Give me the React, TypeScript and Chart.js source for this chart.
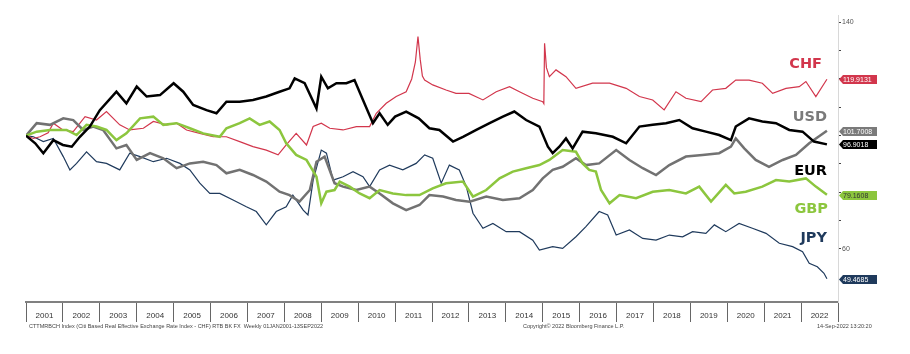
import React, { useEffect, useRef } from 'react';
import { Chart, registerables } from 'chart.js';

Chart.register(...registerables);

// ---------- DATA ----------
const yearLabels = ['2001','2002','2003','2004','2005','2006','2007','2008','2009','2010','2011','2012','2013','2014','2015','2016','2017','2018','2019','2020','2021','2022'];
const yTickValues = [60, 70, 80, 90, 100, 110, 120, 130, 140];
const yLabelled = [60, 140];

const chfYears = [2001.0,2001.2,2001.38,2001.6,2001.74,2002.0,2002.28,2002.6,2002.91,2003.18,2003.54,2003.81,2004.18,2004.45,2004.81,2005.08,2005.35,2005.71,2006.07,2006.43,2006.79,2007.15,2007.51,2007.83,2008.05,2008.32,2008.6,2008.78,2009.0,2009.23,2009.59,2009.95,2010.31,2010.49,2010.76,2011.03,2011.3,2011.45,2011.55,2011.62,2011.68,2011.74,2011.8,2012.02,2012.38,2012.65,2013.0,2013.38,2013.74,2014.1,2014.37,2014.73,2015.0,2015.03,2015.05,2015.1,2015.18,2015.36,2015.63,2015.9,2016.35,2016.81,2017.26,2017.62,2017.98,2018.29,2018.61,2018.88,2019.29,2019.6,2019.96,2020.23,2020.59,2020.95,2021.23,2021.59,2021.95,2022.13,2022.4,2022.7];
const chfValues = [100,99.0,99.6,101.0,104.4,102.0,101.4,106.7,105.5,108.5,103.8,102.0,102.6,105.0,103.8,104.4,102.0,100.8,99.6,99.6,97.9,96.1,94.9,93.2,96.7,100.8,96.7,103.2,104.4,102.6,102.0,103.2,103.2,107.9,111.4,113.8,115.5,120.0,126.0,135.0,127.0,121.0,119.6,117.9,116.1,114.9,114.9,112.6,115.5,117.3,115.5,113.2,112.0,111.3,132.6,124.0,120.8,123.2,120.8,116.7,118.5,118.5,116.7,113.8,112.6,109.1,115.5,113.2,112.0,116.1,116.7,119.6,119.6,118.5,114.9,116.7,117.3,119.1,113.8,119.9131];

const eurYears = [2001.0,2001.25,2001.47,2001.74,2002.0,2002.24,2002.46,2002.73,2003.0,2003.45,2003.72,2004.0,2004.27,2004.63,2005.0,2005.26,2005.53,2005.89,2006.16,2006.43,2006.79,2007.15,2007.51,2007.87,2008.14,2008.28,2008.55,2008.87,2009.0,2009.18,2009.41,2009.68,2009.9,2010.13,2010.4,2010.58,2010.8,2011.0,2011.3,2011.64,2011.93,2012.2,2012.57,2012.84,2013.2,2013.56,2013.92,2014.23,2014.55,2014.91,2015.14,2015.27,2015.45,2015.63,2015.81,2016.08,2016.44,2016.9,2017.26,2017.62,2017.98,2018.34,2018.7,2019.06,2019.42,2019.78,2020.1,2020.23,2020.59,2020.95,2021.32,2021.68,2022.04,2022.35,2022.7];
const eurValues = [100,97.3,93.8,98.4,96.7,96.1,99.6,103.2,109.0,115.5,111.4,117.3,113.8,114.3,118.5,115.5,110.8,109.0,107.9,112.0,112.0,112.6,113.8,115.5,116.7,120.2,118.5,109.6,120.8,116.7,118.5,118.5,119.6,112.6,104.4,107.9,103.8,106.7,108.5,106.1,102.6,102.0,97.9,99.6,102.0,104.4,106.7,108.5,105.5,103.2,96.1,93.8,96.1,99.0,95.5,101.4,100.8,99.6,97.3,103.2,103.8,104.4,105.5,102.6,101.4,100.2,98.4,103.2,106.1,105.0,104.4,102.0,101.4,97.9,96.9018];

const usdYears = [2001.0,2001.29,2001.65,2002.01,2002.28,2002.55,2002.82,2003.09,2003.45,2003.72,2004.0,2004.36,2004.72,2005.08,2005.44,2005.8,2006.16,2006.43,2006.79,2007.15,2007.51,2007.87,2008.14,2008.41,2008.69,2008.87,2009.09,2009.36,2009.59,2009.95,2010.31,2010.58,2010.94,2011.3,2011.66,2011.93,2012.3,2012.65,2013.02,2013.47,2013.92,2014.37,2014.73,2015.0,2015.27,2015.54,2015.9,2016.17,2016.53,2016.99,2017.35,2017.71,2018.07,2018.43,2018.88,2019.33,2019.78,2020.1,2020.23,2020.46,2020.77,2021.13,2021.5,2021.86,2022.22,2022.7];
const usdValues = [100,104.4,103.8,106.1,105.5,102.0,103.2,102.0,95.5,96.7,91.4,93.8,92.0,88.5,90.2,90.8,89.6,86.7,87.9,86.1,83.8,80.2,79.0,76.7,80.8,90.8,92.6,83.2,82.0,80.8,82.0,79.6,76.1,73.7,75.5,79.0,78.5,77.3,76.7,78.5,77.3,77.9,80.8,84.9,87.9,89.0,92.0,89.6,90.2,94.9,91.4,88.5,86.1,89.6,92.6,93.2,93.8,96.1,99.0,95.5,91.4,89.0,91.4,93.2,97.3,101.7008];

const gbpYears = [2001.0,2001.29,2001.65,2002.1,2002.37,2002.64,2002.91,2003.18,2003.45,2003.72,2004.09,2004.45,2004.72,2005.08,2005.44,2005.8,2006.25,2006.43,2006.79,2007.06,2007.33,2007.6,2007.87,2008.05,2008.32,2008.6,2008.87,2009.0,2009.14,2009.36,2009.5,2009.77,2010.04,2010.31,2010.58,2010.94,2011.3,2011.66,2012.02,2012.38,2012.84,2013.11,2013.47,2013.83,2014.19,2014.55,2014.91,2015.18,2015.54,2015.9,2016.08,2016.26,2016.44,2016.58,2016.81,2017.08,2017.53,2017.98,2018.43,2018.88,2019.24,2019.56,2019.96,2020.19,2020.5,2020.95,2021.32,2021.68,2022.13,2022.4,2022.7];
const gbpValues = [100,101.4,102.0,102.0,100.2,103.8,103.2,102.0,98.4,100.8,106.1,106.7,103.8,104.4,102.6,100.8,99.6,102.6,104.4,106.1,103.8,105.0,102.0,97.3,93.2,91.4,85.5,76.1,80.2,80.8,83.8,82.0,79.6,77.9,80.8,79.6,79.0,79.0,81.4,83.2,83.8,78.5,80.8,84.9,87.3,88.5,89.6,91.4,94.9,94.3,90.2,87.9,87.3,80.8,76.1,79.0,77.9,80.2,80.8,79.6,82.0,76.7,82.6,79.6,80.2,82.0,84.3,83.8,84.9,82.0,79.1608];

const jpyYears = [2001.0,2001.2,2001.47,2001.74,2002.01,2002.19,2002.37,2002.64,2002.91,2003.18,2003.54,2003.81,2004.09,2004.45,2004.81,2005.17,2005.44,2005.71,2005.98,2006.25,2006.61,2006.97,2007.24,2007.51,2007.78,2008.05,2008.23,2008.51,2008.64,2008.78,2009.0,2009.14,2009.32,2009.59,2009.86,2010.13,2010.31,2010.58,2010.85,2011.21,2011.57,2011.8,2012.02,2012.25,2012.47,2012.74,2012.93,2013.11,2013.38,2013.65,2014.01,2014.37,2014.73,2014.91,2015.27,2015.54,2015.9,2016.17,2016.53,2016.76,2016.99,2017.35,2017.71,2018.07,2018.43,2018.79,2019.06,2019.42,2019.65,2019.96,2020.32,2020.68,2021.05,2021.41,2021.77,2022.04,2022.22,2022.44,2022.62,2022.7];
const jpyValues = [100,99.6,97.9,99.0,92.6,87.9,90.2,94.3,90.8,90.2,87.9,93.8,92.6,90.8,92.0,90.2,87.9,83.2,79.6,79.6,77.3,74.9,73.2,68.5,73.2,74.9,79.0,73.7,72.0,84.3,94.9,93.8,84.3,85.5,87.3,85.5,82.0,87.9,89.6,87.9,90.2,93.2,92.0,83.2,89.6,87.9,82.0,72.6,67.3,69.0,66.1,66.1,63.1,59.6,60.8,60.2,64.3,67.9,73.2,72.0,64.9,66.7,63.7,63.1,64.9,64.3,66.1,65.5,68.5,66.1,69.0,67.3,65.5,62.0,60.8,59.0,54.9,53.7,51.4,49.4685];

const footerLeft = 'CTTMRBCH Index (Citi Based Real Effective Exchange Rate Index - CHF) RTB BK FX  Weekly 01JAN2001-13SEP2022';
const footerCenter = 'Copyright\u00A9 2022 Bloomberg Finance L.P.';
const footerRight = '14-Sep-2022 13:20:20';

// ---------- STYLE ----------
const series = [
  { name: 'EUR', years: eurYears, values: eurValues, color: '#000000', labelColor: '#000000', width: 2.5, badge: '#000000', badgeText: '#ffffff', labelAt: 86.1, labelGap: 11 },
  { name: 'GBP', years: gbpYears, values: gbpValues, color: '#8cc63e', labelColor: '#8cc63e', width: 2.5, badge: '#8cc63e', badgeText: '#333333', labelAt: 72.6, labelGap: 10 },
  { name: 'USD', years: usdYears, values: usdValues, color: '#727272', labelColor: '#7a7a7a', width: 2.5, badge: '#7a7a7a', badgeText: '#ffffff', labelAt: 105.3, labelGap: 11 },
  { name: 'CHF', years: chfYears, values: chfValues, color: '#d2364c', labelColor: '#d2364c', width: 1.2, badge: '#d2364c', badgeText: '#ffffff', labelAt: 123.8, labelGap: 16 },
  { name: 'JPY', years: jpyYears, values: jpyValues, color: '#1f3a5c', labelColor: '#1f3a5c', width: 1.2, badge: '#1f3a5c', badgeText: '#ffffff', labelAt: 62.6, labelGap: 11 },
];

const overlay = {
  id: 'overlay',
  afterDraw(chart: any) {
    const ctx = chart.ctx;
    const ys = chart.scales.y;
    const area = chart.chartArea;
    ctx.save();
    chart.data.datasets.forEach((ds: any, i: number) => {
      const s = series[i];
      const last = ds.data[ds.data.length - 1].y;
      const py = Math.round(ys.getPixelForValue(last)) + 0.5;
      const x0 = area.right + 1;
      ctx.fillStyle = s.badge;
      ctx.beginPath();
      ctx.moveTo(x0, py);
      ctx.lineTo(x0 + 4, py - 4.5);
      ctx.lineTo(x0 + 38, py - 4.5);
      ctx.lineTo(x0 + 38, py + 4.5);
      ctx.lineTo(x0 + 4, py + 4.5);
      ctx.closePath();
      ctx.fill();
      ctx.fillStyle = s.badgeText;
      ctx.font = '7px "Liberation Sans", sans-serif';
      ctx.textBaseline = 'middle';
      ctx.textAlign = 'left';
      ctx.fillText(last.toFixed(4), x0 + 4, py + 0.5);

      // series name label
      ctx.fillStyle = s.labelColor;
      ctx.font = 'bold 14.5px "DejaVu Sans", sans-serif';
      ctx.textAlign = 'right';
      ctx.textBaseline = 'alphabetic';
      ctx.fillText(s.name, area.right - s.labelGap, ys.getPixelForValue(s.labelAt));
    });

    // footer
    ctx.fillStyle = '#444';
    ctx.font = '5.5px "Liberation Sans", sans-serif';
    ctx.textAlign = 'left';
    ctx.textBaseline = 'middle';
    ctx.fillText(footerLeft, 29, 326);
    ctx.fillText(footerCenter, 523, 326);
    ctx.fillText(footerRight, 817, 326);
    ctx.restore();
  },
};

export default function App() {
  const ref = useRef<HTMLCanvasElement | null>(null);
  useEffect(() => {
    if (!ref.current) return;
    const chart = new Chart(ref.current, {
      type: 'line',
      data: {
        datasets: series.map((s) => ({
          label: s.name,
          data: s.years.map((x, k) => ({ x, y: s.values[k] })),
          borderColor: s.color,
          borderWidth: s.width,
          pointRadius: 0,
          tension: 0,
          fill: false,
        })),
      },
      options: {
        animation: false,
        responsive: false,
        devicePixelRatio: 1,
        layout: { padding: { left: 26, top: 15, right: 0, bottom: 0 } },
        plugins: { legend: { display: false }, tooltip: { enabled: false } },
        scales: {
          x: {
            type: 'linear',
            min: 2001,
            max: 2023,
            afterBuildTicks: (scale: any) => {
              scale.ticks = yearLabels.map((l) => ({ value: Number(l) + 0.5 }));
            },
            afterFit: (scale: any) => { scale.height = 52; },
            ticks: {
              autoSkip: false,
              maxRotation: 0,
              padding: -11,
              color: '#333',
              font: { family: '"Liberation Sans", sans-serif', size: 8 },
              callback: (v: any) => String(Math.floor(Number(v))),
            },
            grid: { display: true, drawOnChartArea: false, drawTicks: true, tickLength: 20, offset: true, color: '#666', lineWidth: 1 },
            border: { display: true, color: '#808080', width: 2 },
          },
          y: {
            type: 'linear',
            position: 'right',
            min: 41.27,
            max: 142.58,
            afterBuildTicks: (scale: any) => {
              scale.ticks = yTickValues.map((v) => ({ value: v }));
            },
            afterFit: (scale: any) => { scale.width = 72; },
            ticks: {
              autoSkip: false,
              padding: 1,
              color: '#555',
              font: { family: '"Liberation Sans", sans-serif', size: 7 },
              callback: (v: any) => (yLabelled.includes(Number(v)) ? String(v) : ''),
            },
            grid: { display: true, drawOnChartArea: false, drawTicks: true, tickLength: 3, color: '#444', lineWidth: 1 },
            border: { display: true, color: '#d8d8d8', width: 1 },
          },
        },
      },
      plugins: [overlay],
    } as any);
    return () => chart.destroy();
  }, []);
  return (
    <div style={{ position: 'absolute', left: 0, top: 0, width: 910, height: 354, background: '#fff' }}>
      <canvas ref={ref} width={910} height={354} />
    </div>
  );
}
